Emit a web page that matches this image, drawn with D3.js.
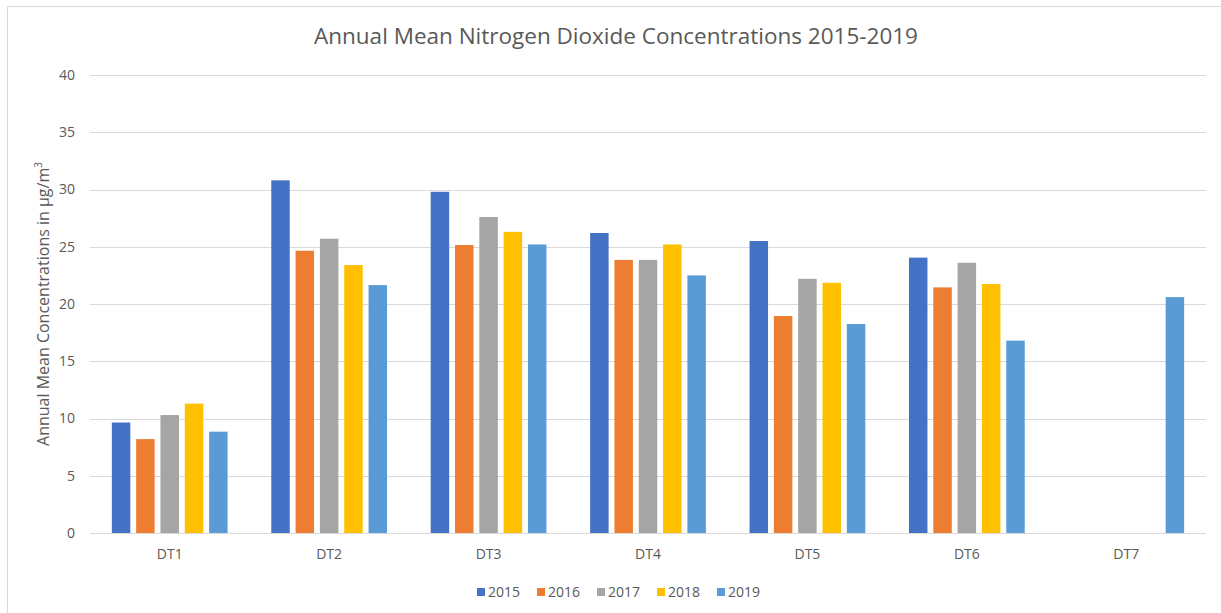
<!DOCTYPE html>
<html>
<head>
  <script src="https://d3js.org/d3.v7.min.js"></script>
  <style>
    body { margin: 0; background: #fff; }
    text { font-family: "Open Sans", "Noto Sans", sans-serif; fill: #595959; }
  </style>
</head>
<body>
<script type="text/javascript">

  var sites = ["DT1", "DT2", "DT3", "DT4", "DT5", "DT6", "DT7"];
  var years = ["2015", "2016", "2017", "2018", "2019"];
  var colors = ["#4472C4", "#ED7D31", "#A5A5A5", "#FFC000", "#5B9BD5"];

  var v2015 = [9.65, 30.8, 29.8, 26.2, 25.5, 24.05, null];
  var v2016 = [8.2, 24.65, 25.15, 23.85, 18.95, 21.45, null];
  var v2017 = [10.3, 25.7, 27.6, 23.85, 22.2, 23.6, null];
  var v2018 = [11.3, 23.4, 26.3, 25.2, 21.85, 21.75, null];
  var v2019 = [8.85, 21.65, 25.2, 22.5, 18.25, 16.8, 20.6];
  var yTicks = [0, 5, 10, 15, 20, 25, 30, 35, 40];

  var series = [v2015, v2016, v2017, v2018, v2019];

  var W = 1221, H = 613;
  var margin = {left: 90, right: 15, top: 75, bottom: 80};

  var svg = d3.select("body").append("svg")
    .attr("width", W)
    .attr("height", H);

  // outer chart border
  svg.append("rect")
    .attr("x", 7.5).attr("y", 6.5)
    .attr("width", W + 10).attr("height", H + 10)
    .attr("fill", "#fff")
    .attr("stroke", "#d9d9d9");

  var x0 = d3.scaleBand()
    .domain(sites)
    .range([margin.left, W - margin.right])
    .paddingInner(0.274)
    .paddingOuter(0.137);

  var x1 = d3.scaleBand()
    .domain(years)
    .range([0, x0.bandwidth()])
    .paddingInner(0.24);

  var y = d3.scaleLinear()
    .domain([0, 40])
    .range([H - margin.bottom, margin.top]);

  // gridlines
  svg.append("g")
    .selectAll("line")
    .data(yTicks)
    .enter().append("line")
    .attr("x1", margin.left)
    .attr("x2", W - margin.right)
    .attr("y1", function(d) { return Math.round(y(d)) + 0.5; })
    .attr("y2", function(d) { return Math.round(y(d)) + 0.5; })
    .attr("stroke", "#d9d9d9")
    .attr("stroke-width", 1);

  // y tick labels
  var yAxis = svg.append("g")
    .attr("transform", "translate(" + (margin.left - 15) + ",0)")
    .call(d3.axisLeft(y).tickValues(yTicks).tickSize(0).tickPadding(0));
  yAxis.select(".domain").remove();
  yAxis.selectAll("text")
    .style("font-size", "14px")
    .attr("fill", "#595959");

  // x labels
  var xAxis = svg.append("g")
    .attr("transform", "translate(0," + (H - margin.bottom) + ")")
    .call(d3.axisBottom(x0).tickSize(0).tickPadding(16));
  xAxis.select(".domain").remove();
  xAxis.selectAll("text")
    .style("font-size", "14px")
    .attr("fill", "#595959");

  // bars
  var groups = svg.append("g")
    .selectAll("g")
    .data(sites)
    .enter().append("g")
    .attr("transform", function(d) { return "translate(" + x0(d) + ",0)"; });

  groups.selectAll("rect")
    .data(function(d, i) {
      return years.map(function(yr, j) { return {year: yr, value: series[j][i], color: colors[j]}; })
        .filter(function(e) { return e.value != null; });
    })
    .enter().append("rect")
    .attr("x", function(d) { return x1(d.year); })
    .attr("width", x1.bandwidth())
    .attr("y", function(d) { return y(d.value); })
    .attr("height", function(d) { return y(0) - y(d.value); })
    .attr("fill", function(d) { return d.color; });

  // title
  svg.append("text")
    .attr("x", 616)
    .attr("y", 44)
    .attr("text-anchor", "middle")
    .style("font-size", "22.5px")
    .text("Annual Mean Nitrogen Dioxide Concentrations 2015-2019");

  // y axis title
  var yt = svg.append("text")
    .attr("transform", "translate(49," + ((y(0) + y(40)) / 2) + ") rotate(-90)")
    .attr("text-anchor", "middle")
    .style("font-size", "16px");
  yt.append("tspan").text("Annual Mean Concentrations in \u00b5g/m");
  yt.append("tspan").attr("dy", -7).style("font-size", "10px").text("3");

  // legend
  var legend = svg.append("g")
    .attr("transform", "translate(477,592)");
  var item = legend.selectAll("g")
    .data(years)
    .enter().append("g")
    .attr("transform", function(d, i) { return "translate(" + i * 60 + ",0)"; });
  item.append("rect")
    .attr("x", 0).attr("y", -4)
    .attr("width", 8).attr("height", 8)
    .attr("fill", function(d, i) { return colors[i]; });
  item.append("text")
    .attr("x", 11)
    .attr("y", 0)
    .attr("dy", "0.35em")
    .style("font-size", "14px")
    .text(function(d) { return d; });

</script>
</body>
</html>
